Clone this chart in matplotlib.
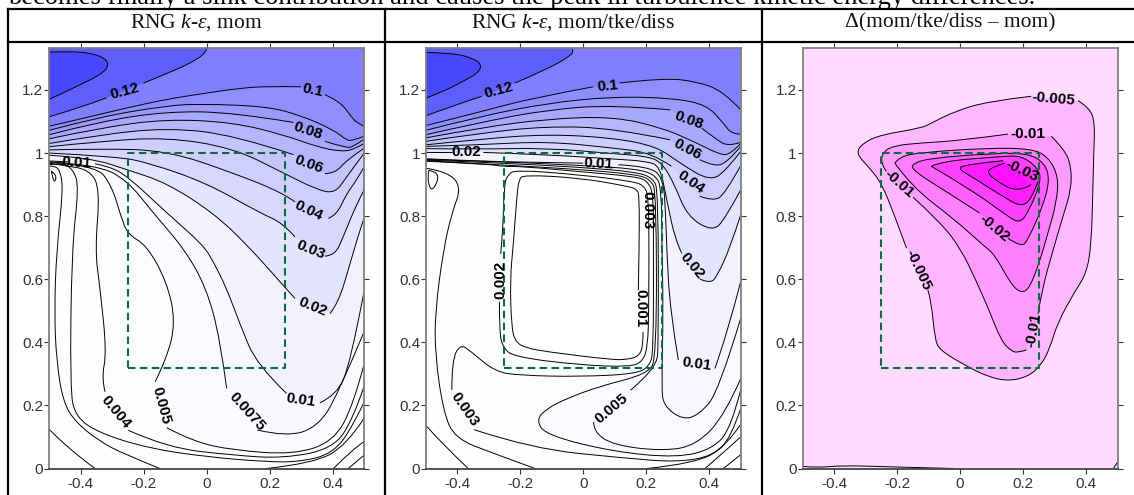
import matplotlib
matplotlib.use("Agg")
import matplotlib.pyplot as plt
from matplotlib.path import Path
from matplotlib.patches import PathPatch

plt.rcParams["font.family"] = ["Liberation Sans", "DejaVu Sans"]
plt.rcParams["mathtext.fontset"] = "custom"
plt.rcParams["mathtext.rm"] = "Liberation Serif"
plt.rcParams["mathtext.it"] = "Liberation Serif:italic"

X_MIN, X_MAX, Y_MIN, Y_MAX = -0.5, 0.5, 0.0, 1.333
X_TICKS = [-0.4, -0.2, 0, 0.2, 0.4]
X_TICK_LABELS = ["-0.4", "-0.2", "0", "0.2", "0.4"]
Y_TICKS = [0, 0.2, 0.4, 0.6, 0.8, 1.0, 1.2]
Y_TICK_LABELS = ["0", "0.2", "0.4", "0.6", "0.8", "1", "1.2"]
BOX_X = [-0.25, 0.25, 0.25, -0.25, -0.25]
BOX_Y = [0.32, 0.32, 1.0, 1.0, 0.32]
TITLES = ["RNG $k$-$\\varepsilon$, mom", "RNG $k$-$\\varepsilon$, mom/tke/diss", "\u0394(mom/tke/diss \u2013 mom)"]
CAPTION = "becomes finally a sink contribution and causes the peak in turbulence kinetic energy differences."

# contour lines, each level is a list of segments (gaps = labels)
A_00005 = [[(0.45, 0), (0.5, 0.042)]]
A_0001 = [[(-0.5, 0.125), (-0.44, 0.063), (-0.354, 0)], [(0.403, 0), (0.466, 0.063), (0.5, 0.085)]]
A_0002 = [[(-0.5, 0.958), (-0.486, 0.96), (-0.465, 0.947), (-0.455, 0.884), (-0.476, 0.693), (-0.483, 0.497),
           (-0.476, 0.338), (-0.455, 0.211), (-0.417, 0.148), (-0.338, 0.085), (-0.26, 0.045), (-0.148, 0)],
          [(0.19, 0), (0.34, 0.016), (0.445, 0.074), (0.5, 0.159)]]
A_0003 = [[(-0.5, 0.963), (-0.455, 0.968), (-0.423, 0.947), (-0.405, 0.894), (-0.428, 0.693), (-0.433, 0.254),
           (-0.417, 0.164), (-0.338, 0.111), (-0.179, 0.063), (0, 0.037), (0.19, 0.021), (0.297, 0.021),
           (0.403, 0.048), (0.466, 0.137), (0.5, 0.21)]]
A_0004 = [[(-0.5, 0.968), (-0.455, 0.961), (-0.37, 0.947), (-0.338, 0.884), (-0.354, 0.693), (-0.338, 0.571),
           (-0.317, 0.37), (-0.333, 0.285), (-0.322, 0.243)],
          [(-0.248, 0.121), (-0.126, 0.066), (0.085, 0.042), (0.244, 0.032), (0.403, 0.063), (0.466, 0.159), (0.5, 0.26)]]
A_0005 = [[(-0.5, 0.97), (-0.35, 0.962), (-0.3, 0.894), (-0.272, 0.8), (-0.25, 0.742), (-0.19, 0.708), (-0.126, 0.592),
           (-0.098, 0.465), (-0.126, 0.349), (-0.163, 0.275)],
          [(-0.126, 0.129), (-0.042, 0.085), (0.085, 0.058), (0.276, 0.044), (0.403, 0.085), (0.466, 0.2), (0.5, 0.33)]]
A_00075 = [[(-0.5, 0.972), (-0.349, 0.963), (-0.253, 0.915), (-0.169, 0.81), (-0.068, 0.693), (0, 0.571),
            (0.043, 0.412), (0.064, 0.254)],
           [(0.161, 0.122), (0.256, 0.1), (0.353, 0.132), (0.416, 0.232), (0.5, 0.433)]]
A_001 = [[(-0.5, 0.975), (-0.44, 0.972)],
         [(-0.354, 0.966), (-0.31, 0.958), (-0.25, 0.926), (-0.126, 0.81), (-0.01, 0.708), (0.022, 0.655), (0.064, 0.571),
          (0.107, 0.455), (0.16, 0.328), (0.254, 0.238)],
         [(0.36, 0.208), (0.413, 0.233), (0.456, 0.33), (0.5, 0.56)]]
A_002 = [[(-0.5, 0.993), (-0.37, 0.985), (-0.248, 0.946), (-0.126, 0.905), (0.022, 0.81), (0.13, 0.708), (0.233, 0.592),
          (0.281, 0.539)],
         [(0.392, 0.491), (0.418, 0.523), (0.456, 0.65), (0.487, 0.756), (0.5, 0.793)]]
A_003 = [[(-0.5, 1.0), (-0.285, 0.989), (-0.18, 0.968), (0, 0.905), (0.17, 0.81), (0.244, 0.777), (0.281, 0.734)],
         [(0.376, 0.673), (0.408, 0.676), (0.434, 0.734), (0.477, 0.84), (0.5, 0.882)]]
A_004 = [[(-0.5, 1.01), (-0.338, 1.014), (-0.126, 1.008), (0.085, 0.937), (0.244, 0.873), (0.281, 0.845)],
         [(0.387, 0.793), (0.413, 0.803), (0.445, 0.872), (0.477, 0.914), (0.5, 0.956)]]
A_005 = [[(-0.5, 1.02), (-0.338, 1.037), (-0.126, 1.05), (0.085, 1.016), (0.244, 0.937), (0.35, 0.884), (0.408, 0.872),
          (0.445, 0.925), (0.5, 0.999)]]
A_006 = [[(-0.5, 1.03), (-0.338, 1.058), (-0.126, 1.08), (0.085, 1.058), (0.276, 0.995)],
         [(0.376, 0.935), (0.408, 0.935), (0.445, 0.978), (0.5, 1.015)]]
A_007 = [[(-0.5, 1.045), (-0.338, 1.08), (-0.126, 1.108), (0.085, 1.097), (0.244, 1.058), (0.35, 1.02), (0.424, 1.005),
          (0.466, 1.01), (0.5, 1.03)]]
A_008 = [[(-0.5, 1.058), (-0.338, 1.1), (-0.126, 1.132), (0.085, 1.129), (0.276, 1.097)],
         [(0.376, 1.037), (0.445, 1.016), (0.466, 1.02), (0.5, 1.044)]]
A_009 = [[(-0.5, 1.072), (-0.338, 1.115), (-0.126, 1.15), (-0.02, 1.156), (0.19, 1.148), (0.297, 1.12), (0.403, 1.074),
          (0.445, 1.04), (0.466, 1.04), (0.5, 1.053)]]
A_010 = [[(-0.5, 1.085), (-0.4, 1.108), (-0.3, 1.132), (-0.2, 1.155), (-0.1, 1.175), (0, 1.19), (0.1, 1.205),
          (0.2, 1.212), (0.3, 1.21)],
         [(0.376, 1.185), (0.424, 1.163), (0.456, 1.12), (0.477, 1.095), (0.5, 1.085)]]
A_012 = [[(-0.5, 1.115), (-0.412, 1.14), (-0.317, 1.175)],
         [(-0.2, 1.222), (-0.105, 1.26), (-0.03, 1.296), (0, 1.322), (0, 1.333)]]
A_014 = [[(-0.5, 1.17), (-0.465, 1.186), (-0.4, 1.217), (-0.337, 1.248), (-0.31, 1.275), (-0.32, 1.3), (-0.37, 1.318),
          (-0.44, 1.322), (-0.5, 1.32)]]
A_SPOT = [[(-0.492, 0.942), (-0.476, 0.931), (-0.481, 0.907), (-0.489, 0.921), (-0.492, 0.942)]]
A_LEVELS = [A_00005, A_0001, A_0002, A_0003, A_0004, A_0005, A_00075, A_001, A_002, A_003, A_004, A_005, A_006,
            A_007, A_008, A_009, A_010, A_012, A_014, A_SPOT]
A_COLORS = ["#ffffff", "#feFEff", "#fdfdff", "#fdfdff", "#fcfcff", "#fbfbff", "#f8f8ff", "#f2f2ff", "#e4e4ff", "#d8d8ff",
            "#cfcfff", "#c4c4ff", "#b6b6ff", "#a8a8ff", "#9a9aff", "#8e8eff", "#7f7fff", "#5f5fff", "#4848ff", "#ffffff"]
A_LABELS = ["0.12", "0.1", "0.08", "0.06", "0.04", "0.03", "0.02", "0.01", "0.01", "0.0075", "0.005", "0.004"]
A_LABEL_X = [-0.259, 0.336, 0.323, 0.323, 0.325, 0.33, 0.336, 0.299, -0.412, 0.127, -0.144, -0.287]
A_LABEL_Y = [1.196, 1.2, 1.072, 0.963, 0.818, 0.693, 0.513, 0.217, 0.968, 0.18, 0.199, 0.18]
A_LABEL_ROT = [15, -12, -18, -20, -25, -22, -22, -8, -3, -48, -75, -50]

B_00005 = [[(0.445, 0), (0.5, 0.044)]]
B_0001 = [[(-0.5, 0.137), (-0.44, 0.07), (-0.365, 0)], [(0.387, 0), (0.45, 0.055), (0.5, 0.1)]]
B_0002 = [[(-0.5, 0.952), (-0.433, 0.942), (-0.386, 0.894), (-0.417, 0.81), (-0.444, 0.693), (-0.47, 0.497),
           (-0.47, 0.359), (-0.444, 0.18), (-0.407, 0.095), (-0.285, 0.048), (-0.153, 0)],
          [(0.202, 0), (0.36, 0.016), (0.456, 0.074), (0.5, 0.14)]]
B_0003 = [[(-0.5, 0.974), (-0.3, 0.965), (-0.253, 0.957), (-0.2, 0.958), (-0.01, 0.941), (0.17, 0.925), (0.205, 0.91),
           (0.223, 0.87), (0.223, 0.7), (0.223, 0.37), (0.21, 0.325), (0.17, 0.3), (-0.01, 0.291), (-0.2, 0.295),
           (-0.28, 0.307), (-0.355, 0.37), (-0.391, 0.395), (-0.417, 0.34), (-0.417, 0.249)],
          [(-0.346, 0.123), (-0.165, 0.063), (0.14, 0.032), (0.3, 0.02), (0.413, 0.04), (0.47, 0.1), (0.5, 0.19)]]
B_0004 = [[(-0.5, 0.976), (-0.253, 0.962), (-0.01, 0.948), (0.17, 0.932), (0.215, 0.915), (0.232, 0.875), (0.233, 0.35),
           (0.205, 0.3), (0.05, 0.26), (-0.052, 0.222), (-0.116, 0.19), (-0.15, 0.153), (-0.116, 0.105), (0.096, 0.053),
           (0.3, 0.034), (0.413, 0.063), (0.47, 0.13), (0.5, 0.25)]]
B_0005 = [[(-0.5, 0.978), (-0.253, 0.968), (-0.01, 0.955), (0.17, 0.94), (0.222, 0.92), (0.238, 0.88), (0.239, 0.4),
           (0.233, 0.317), (0.15, 0.248)],
          [(0.033, 0.148), (0.033, 0.116), (0.096, 0.074), (0.254, 0.055), (0.36, 0.074), (0.45, 0.17), (0.5, 0.285)]]
B_00075 = [[(-0.5, 0.98), (-0.253, 0.972), (-0.01, 0.961), (0.17, 0.95), (0.23, 0.93), (0.248, 0.89), (0.25, 0.7),
            (0.254, 0.5), (0.249, 0.262), (0.254, 0.2), (0.314, 0.155), (0.367, 0.169), (0.43, 0.243), (0.5, 0.476)]]
B_001 = [[(-0.5, 0.982), (-0.328, 0.974), (-0.116, 0.97), (0, 0.968)],
         [(0.112, 0.963), (0.202, 0.958), (0.254, 0.926), (0.262, 0.8), (0.265, 0.7), (0.276, 0.497), (0.302, 0.344)],
         [(0.418, 0.317), (0.456, 0.423), (0.5, 0.592)]]
B_002 = [[(-0.5, 1.002), (-0.417, 1.002)],
         [(-0.317, 1.002), (-0.116, 0.995), (0.096, 0.981), (0.202, 0.974), (0.244, 0.958), (0.265, 0.852),
          (0.292, 0.725), (0.313, 0.682)],
         [(0.371, 0.6), (0.403, 0.587), (0.424, 0.608), (0.466, 0.698), (0.5, 0.804)]]
B_003 = [[(-0.5, 1.014), (-0.328, 1.012), (-0.116, 1.016), (0.096, 0.998), (0.202, 0.99), (0.25, 0.97), (0.29, 0.9),
          (0.33, 0.8), (0.41, 0.751), (0.45, 0.79), (0.5, 0.883)]]
B_004 = [[(-0.5, 1.021), (-0.328, 1.026), (-0.116, 1.037), (0.096, 1.016), (0.22, 1.0), (0.28, 0.958)],
         [(0.37, 0.863), (0.413, 0.847), (0.45, 0.87), (0.5, 0.96)]]
B_005 = [[(-0.5, 1.026), (-0.328, 1.044), (-0.116, 1.06), (0.096, 1.048), (0.233, 1.021), (0.307, 0.968), (0.403, 0.91),
          (0.456, 0.947), (0.5, 1.005)]]
B_006 = [[(-0.5, 1.037), (-0.328, 1.063), (-0.116, 1.085), (0.096, 1.079), (0.276, 1.042)],
         [(0.37, 0.979), (0.413, 0.958), (0.456, 0.968), (0.5, 1.021)]]
B_007 = [[(-0.5, 1.048), (-0.328, 1.08), (-0.116, 1.108), (0.096, 1.116), (0.254, 1.079), (0.36, 1.032), (0.434, 0.995),
          (0.466, 0.995), (0.5, 1.03)]]
B_008 = [[(-0.5, 1.058), (-0.328, 1.097), (-0.116, 1.137), (0.096, 1.153), (0.276, 1.137)],
         [(0.376, 1.079), (0.424, 1.042), (0.461, 1.021), (0.5, 1.034)]]
B_009 = [[(-0.5, 1.072), (-0.328, 1.116), (-0.116, 1.158), (0.096, 1.179), (0.286, 1.174), (0.392, 1.153), (0.445, 1.095),
          (0.471, 1.06), (0.5, 1.06)]]
B_010 = [[(-0.5, 1.087), (-0.328, 1.13), (-0.16, 1.175), (0.032, 1.21)],
         [(0.115, 1.222), (0.254, 1.238), (0.36, 1.227), (0.445, 1.196), (0.5, 1.137)]]
B_012 = [[(-0.5, 1.118), (-0.413, 1.15), (-0.322, 1.18)],
         [(-0.217, 1.222), (-0.117, 1.264), (-0.037, 1.31), (-0.031, 1.327), (-0.037, 1.333)]]
B_014 = [[(-0.5, 1.174), (-0.444, 1.195), (-0.38, 1.228), (-0.333, 1.254), (-0.322, 1.28), (-0.349, 1.3), (-0.413, 1.317),
          (-0.5, 1.319)]]
B_RING = [[(-0.266, 0.529), (-0.266, 0.43), (-0.255, 0.385), (-0.222, 0.354), (-0.01, 0.328), (0.149, 0.322), (0.19, 0.34),
           (0.205, 0.39), (0.208, 0.5), (0.209, 0.708), (0.207, 0.86), (0.195, 0.895), (0.16, 0.91), (-0.01, 0.931),
           (-0.216, 0.947), (-0.24, 0.93), (-0.251, 0.9), (-0.255, 0.75), (-0.262, 0.68)]]
B_HOLE = [[(0.19, 0.433), (0.19, 0.385), (0.175, 0.355), (0.14, 0.346), (0.096, 0.344), (-0.116, 0.37), (-0.18, 0.382),
           (-0.215, 0.4), (-0.228, 0.45), (-0.232, 0.602), (-0.222, 0.708), (-0.21, 0.87), (-0.204, 0.915), (-0.19, 0.931),
           (-0.01, 0.921), (0.14, 0.895), (0.172, 0.885), (0.178, 0.86), (0.178, 0.708), (0.175, 0.565)]]
B_SPOT = [[(-0.49, 0.945), (-0.47, 0.942), (-0.458, 0.921), (-0.476, 0.884), (-0.488, 0.889), (-0.494, 0.926), (-0.49, 0.945)]]
B_LEVELS = [B_00005, B_0001, B_0002, B_0003, B_0004, B_0005, B_00075, B_001, B_002, B_003, B_004, B_005, B_006,
            B_007, B_008, B_009, B_010, B_012, B_014, B_RING, B_HOLE, B_SPOT]
B_COLORS = ["#ffffff", "#feFEff", "#fdfdff", "#fcfcff", "#fbfbff", "#f9f9ff", "#f6f6ff", "#f2f2ff", "#e4e4ff", "#d8d8ff",
            "#cfcfff", "#c4c4ff", "#b6b6ff", "#a8a8ff", "#9a9aff", "#8e8eff", "#7f7fff", "#5f5fff", "#4848ff",
            "#ffffff", "#ffffff", "#ffffff"]
B_LABELS = ["0.12", "0.1", "0.08", "0.06", "0.04", "0.02", "0.01", "0.003", "0.02", "0.002", "0.001", "0.01", "0.005", "0.003"]
B_LABEL_X = [-0.269, 0.078, 0.334, 0.329, 0.341, -0.37, 0.048, 0.205, 0.344, -0.262, 0.183, 0.36, 0.09, -0.378]
B_LABEL_Y = [1.2, 1.213, 1.104, 1.01, 0.907, 1.002, 0.966, 0.82, 0.643, 0.597, 0.507, 0.33, 0.19, 0.188]
B_LABEL_ROT = [15, 5, -20, -28, -35, 0, -3, -90, -50, 90, -90, -8, 40, -55]

C_005 = [[(0.375, 1.166), (0.412, 1.143), (0.428, 1.095), (0.425, 1.011), (0.422, 0.894), (0.417, 0.708), (0.401, 0.618),
          (0.364, 0.56), (0.311, 0.465), (0.285, 0.381), (0.258, 0.328), (0.216, 0.291), (0.152, 0.277), (0.089, 0.291),
          (0.025, 0.322), (-0.065, 0.375), (-0.08, 0.412), (-0.091, 0.529), (-0.102, 0.566)],
         [(-0.17, 0.699), (-0.207, 0.8), (-0.249, 0.905), (-0.292, 0.958), (-0.331, 1.0), (-0.308, 1.032), (-0.251, 1.058),
          (-0.123, 1.079), (-0.091, 1.095), (-0.017, 1.132), (0.089, 1.164), (0.226, 1.18)]]
C_010 = [[(0.152, 1.06), (0.004, 1.04), (-0.123, 1.032), (-0.207, 1.024), (-0.244, 1.005), (-0.252, 0.968), (-0.234, 0.942)],
         [(-0.149, 0.86), (-0.059, 0.778), (0.004, 0.693), (0.047, 0.604), (0.089, 0.51), (0.131, 0.404), (0.163, 0.372),
          (0.184, 0.367), (0.211, 0.376)],
         [(0.248, 0.49), (0.258, 0.56), (0.3, 0.708), (0.327, 0.8), (0.353, 0.884), (0.353, 0.958), (0.332, 1.011), (0.29, 1.053)]]
C_015 = [[(-0.207, 0.968), (-0.192, 0.989), (-0.123, 1.002), (0.089, 1.016), (0.226, 1.014), (0.279, 0.989), (0.313, 0.926),
          (0.306, 0.841), (0.279, 0.746), (0.253, 0.656), (0.221, 0.572), (0.195, 0.556), (0.163, 0.582), (0.11, 0.678),
          (0.078, 0.704), (-0.017, 0.789), (-0.154, 0.894), (-0.207, 0.968)]]
C_020 = [[(0.062, 0.81), (-0.028, 0.868), (-0.154, 0.947), (-0.149, 0.968), (-0.091, 0.984), (0.089, 0.998), (0.216, 1.0),
          (0.269, 0.968), (0.285, 0.915), (0.263, 0.831), (0.216, 0.725), (0.195, 0.701), (0.152, 0.73)]]
C_025 = [[(-0.091, 0.958), (-0.059, 0.974), (0.131, 0.989), (0.195, 0.992), (0.248, 0.952), (0.258, 0.91), (0.216, 0.81),
          (0.189, 0.778), (0.152, 0.799), (0.036, 0.884), (-0.091, 0.958)]]
C_030 = [[(0.137, 0.976), (0.015, 0.963), (-0.006, 0.95), (0.036, 0.926), (0.152, 0.852), (0.195, 0.831), (0.226, 0.852),
          (0.248, 0.91)]]
C_035 = [[(0.226, 0.9), (0.184, 0.873), (0.11, 0.915), (0.084, 0.942), (0.11, 0.958), (0.142, 0.968)]]
C_FLOOR = [[(-0.5, 0.007), (-0.46, 0.002), (-0.37, 0.01), (-0.22, 0.005), (-0.02, 0)]]
C_CORNER = [[(0.487, 0), (0.5, 0.02)]]
C_LEVELS = [C_005, C_010, C_015, C_020, C_025, C_030, C_035]
C_COLORS = ["#ffb8ff", "#ff9cff", "#ff80ff", "#ff60ff", "#ff40ff", "#ff20ff", "#ff10ff"]
C_EXTRA = [C_FLOOR, C_CORNER]
C_LABELS = ["-0.005", "-0.01", "-0.03", "-0.01", "-0.02", "-0.005", "-0.01"]
C_LABEL_X = [0.297, 0.216, 0.195, -0.195, 0.11, -0.133, 0.232]
C_LABEL_Y = [1.171, 1.06, 0.945, 0.902, 0.762, 0.629, 0.439]
C_LABEL_ROT = [-5, 0, -25, -42, -40, -65, 80]

W, H = 1134, 495


def smooth(points):
    """Quadratic bezier pieces through the midpoints, ends stay on the points."""
    verts, codes = [points[0]], []
    n = len(points)
    if n == 2:
        return [points[0], points[1]], [Path.LINETO]
    for i in range(1, n - 1):
        p, q = points[i], points[i + 1]
        end = q if i == n - 2 else ((p[0] + q[0]) / 2, (p[1] + q[1]) / 2)
        verts += [p, end]
        codes += [Path.CURVE3, Path.CURVE3]
    return verts, codes


def closure(last):
    if last[0] == X_MAX:
        return [(X_MAX, Y_MAX), (X_MIN, Y_MAX)]
    if last[1] == Y_MAX:
        return [(X_MIN, Y_MAX)]
    return []


def draw_level(ax, segments, color):
    verts, codes = [], []
    for seg in segments:
        v, c = smooth(seg)
        codes += [Path.LINETO if verts else Path.MOVETO] + c
        verts += v
    for corner in closure(segments[-1][-1]):
        verts.append(corner)
        codes.append(Path.LINETO)
    verts.append(verts[0])
    codes.append(Path.CLOSEPOLY)
    ax.add_patch(PathPatch(Path(verts, codes), facecolor=color, edgecolor="none", lw=0, zorder=1))


def draw_lines(ax, segments):
    for seg in segments:
        v, c = smooth(seg)
        ax.add_patch(PathPatch(Path(v, [Path.MOVETO] + c), facecolor="none", edgecolor="black", lw=0.7, zorder=2))


def add_panel(left, base, levels, colors, labels, label_x, label_y, label_rot, title, title_x):
    ax = fig.add_axes([left / W, (H - 468.5) / H, 315 / W, 420.5 / H])
    ax.set_xlim(X_MIN, X_MAX)
    ax.set_ylim(Y_MIN, Y_MAX)
    ax.set_facecolor(base)
    for segments, color in zip(levels, colors):
        draw_level(ax, segments, color)
    for segments in levels:
        draw_lines(ax, segments)
    ax.plot(BOX_X, BOX_Y, color="#0b6b40", lw=1.5, dashes=(3.6, 2.1), zorder=3)
    for t, x, y, r in zip(labels, label_x, label_y, label_rot):
        ax.text(x, y, t, rotation=r, ha="center", va="center", rotation_mode="anchor",
                fontsize=11, fontweight="bold", color="black", zorder=4)
    ax.set_xticks(X_TICKS, X_TICK_LABELS)
    ax.set_yticks(Y_TICKS, Y_TICK_LABELS)
    ax.tick_params(top=True, right=True, length=3.6, width=0.8, color="#333333", labelcolor="#333333", labelsize=11)
    ax.tick_params(axis="y", pad=0.5)
    ax.tick_params(axis="x", pad=2.5)
    for name, spine in ax.spines.items():
        spine.set_color("#808080" if name != "bottom" else "#444444")
        spine.set_linewidth(1.3)
    fig.text(title_x / W, 1 - 23 / H, title, ha="center", va="center", family="Liberation Serif",
             fontsize=15.5, color="#111111")
    return ax


fig = plt.figure(figsize=(W / 100, H / 100), dpi=100, facecolor="white")

fig.text(8 / W, 1 - 3.5 / H, CAPTION, ha="left", va="baseline", family="Liberation Serif", fontsize=19.2, color="black")

add_panel(49, "#ffffff", A_LEVELS, A_COLORS, A_LABELS, A_LABEL_X, A_LABEL_Y, A_LABEL_ROT, TITLES[0], 196)
add_panel(425.7, "#ffffff", B_LEVELS, B_COLORS, B_LABELS, B_LABEL_X, B_LABEL_Y, B_LABEL_ROT, TITLES[1], 573)
ax3 = add_panel(802.5, "#ffdcff", C_LEVELS, C_COLORS, C_LABELS, C_LABEL_X, C_LABEL_Y, C_LABEL_ROT, TITLES[2], 950)
for segments in C_EXTRA:
    draw_lines(ax3, segments)

# table rules of the page around the panels
for x in (8, 385, 762):
    fig.add_artist(plt.Line2D([x / W, x / W], [0, 1 - 9 / H], color="black", lw=1.6))
for y in (9, 42):
    fig.add_artist(plt.Line2D([8 / W, 1], [1 - y / H, 1 - y / H], color="black", lw=1.6))

fig.savefig("out.png", dpi=100)
